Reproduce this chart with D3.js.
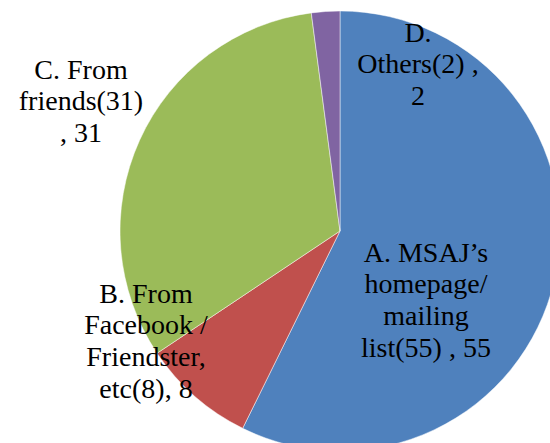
<!DOCTYPE html>
<html>
<head>
<meta charset="utf-8">
<script src="https://cdn.jsdelivr.net/npm/d3@7"></script>
<style>
	body { margin: 0; background: #fff; }
	#chart { position: relative; width: 550px; height: 443px; overflow: hidden; }
	svg { display: block; position: absolute; left: 0; top: 0; }
	div.label {
		position: absolute;
		width: 240px;
		white-space: nowrap;
		text-align: center;
		font-family: "Liberation Serif", Tinos, "Times New Roman", serif;
		font-size: 28px;
		line-height: 31.7px;
		color: #000;
	}
</style>
</head>
<body>
<div id="chart">
	<svg id="pie-chart" width="550" height="443"></svg>
</div>
<script>

const categories = ["A. MSAJ’s homepage/mailing list(55)", "B. From Facebook / Friendster, etc(8)", "C. From friends(31)", "D. Others(2)"];
const values = [55, 8, 31, 2];
const label_lines = [
	["A. MSAJ’s", "homepage/", "mailing", "list(55) , 55"],
	["B. From", "Facebook /", "Friendster,", "etc(8), 8"],
	["C. From", "friends(31)", ", 31"],
	["D.", "Others(2) ,", "2"]
];
const colors = ["#4F81BD", "#C0504D", "#9BBB59", "#8064A2"];

// label placement (first baseline, relative to pie centre), like Excel's best fit
const label_offsets = [[86, 31], [-194, 72], [-259, -152], [78, -189]];

const svg = d3.select("#pie-chart");
const center = [340, 231];
const radius = 220;
const label_box = 240;
const baseline_shift = 25.3; // top of line box -> baseline

const color_scale = d3.scaleOrdinal()
	.domain(categories)
	.range(colors);

const pie = d3.pie()
	.sort(null)
	.value(d => d.value);

const arc = d3.arc()
	.innerRadius(0)
	.outerRadius(radius);

const data = categories.map((c, i) => ({ name: c, value: values[i], lines: label_lines[i], offset: label_offsets[i] }));

const g = svg.append("g")
	.attr("transform", "translate(" + center[0] + "," + center[1] + ")");

g.selectAll("path.slice")
	.data(pie(data))
	.enter()
	.append("path")
		.attr("class", "slice")
		.attr("d", arc)
		.style("fill", d => color_scale(d.data.name))
		.style("stroke", "#ffffff")
		.style("stroke-opacity", 0.6)
		.style("stroke-width", "0.8px");

// Draw the labels (html, centred in a fixed-width box)
d3.select("#chart").selectAll("div.label")
	.data(data)
	.enter()
	.append("div")
		.attr("class", "label")
		.style("left", d => (center[0] + d.offset[0] - label_box / 2) + "px")
		.style("top", d => (center[1] + d.offset[1] - baseline_shift) + "px")
		.html(d => d.lines.join("<br>"));

</script>
</body>
</html>
